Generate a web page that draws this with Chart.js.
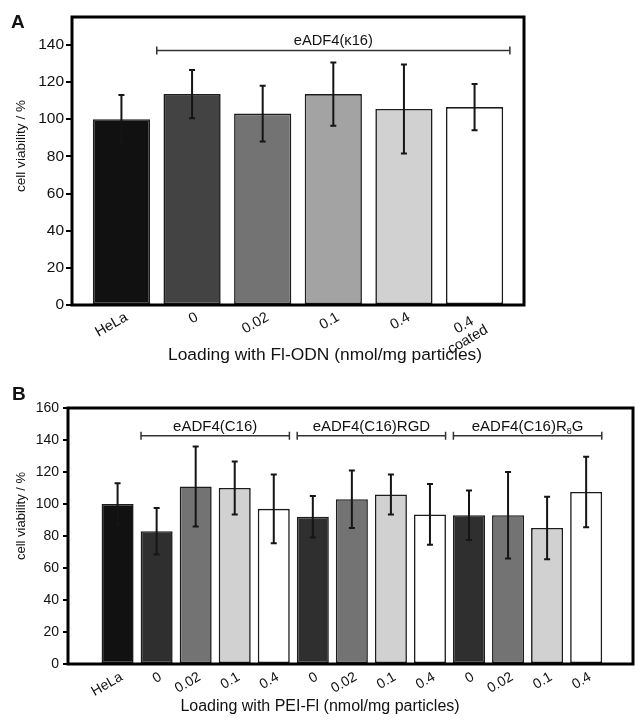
<!DOCTYPE html>
<html>
<head>
<meta charset="utf-8">
<script src="https://cdn.jsdelivr.net/npm/chart.js@4.4.0/dist/chart.umd.min.js"></script>
<style>
  html, body { margin: 0; padding: 0; background: #fff; }
  .panel { position: absolute; left: 0; width: 635px; }
  #wrapA { top: 0; height: 365px; }
  #wrapB { top: 365px; height: 357px; }
</style>
</head>
<body>
<div class="panel" id="wrapA"><canvas id="chartA" width="635" height="365"></canvas></div>
<div class="panel" id="wrapB"><canvas id="chartB" width="635" height="357"></canvas></div>
<script>
// panel A data
const labelsA = ['HeLa', '0', '0.02', '0.1', '0.4', ['0.4  ', 'coated']];
const valuesA = [100, 113.5, 103, 113.5, 105.5, 106.5];
const errorsA = [13, 13, 15, 17, 24, 12.5];
const groupsA = [{ label: 'eADF4(κ16)', from: 1, to: 5 }];
const yTicksA = [0, 20, 40, 60, 80, 100, 120, 140];

// panel B data
const labelsB = ['HeLa', '0', '0.02', '0.1', '0.4', '0', '0.02', '0.1', '0.4', '0', '0.02', '0.1', '0.4'];
const valuesB = [100, 83, 111, 110, 97, 92, 103, 106, 93.5, 93, 93, 85, 107.5];
const errorsB = [13, 14.5, 25, 16.5, 21.5, 13, 18, 12.5, 19, 15.5, 27, 19.5, 22];
const groupsB = [
  { label: 'eADF4(C16)', from: 1, to: 4 },
  { label: 'eADF4(C16)RGD', from: 5, to: 8 },
  { label: 'eADF4(C16)R', sub: '8', tail: 'G', from: 9, to: 12 }
];
const yTicksB = [0, 20, 40, 60, 80, 100, 120, 140, 160];

const FONT = '"Liberation Sans", Arial, Helvetica, sans-serif';

function drawGroupLabel(ctx, g, cx, cy, size) {
  ctx.font = size + 'px ' + FONT;
  const w1 = ctx.measureText(g.label).width;
  let total = w1, w2 = 0, w3 = 0;
  if (g.sub) {
    ctx.font = (size * 0.6) + 'px ' + FONT;
    w2 = ctx.measureText(g.sub).width;
    ctx.font = size + 'px ' + FONT;
    w3 = ctx.measureText(g.tail).width;
    total += w2 + w3;
  }
  let x = cx - total / 2;
  ctx.textAlign = 'left';
  ctx.textBaseline = 'middle';
  ctx.fillText(g.label, x, cy);
  if (g.sub) {
    ctx.font = (size * 0.6) + 'px ' + FONT;
    ctx.fillText(g.sub, x + w1, cy + size * 0.35);
    ctx.font = size + 'px ' + FONT;
    ctx.fillText(g.tail, x + w1 + w2, cy);
  }
}

function makePanel(canvasId, cfg) {
  const panelPlugin = {
    id: 'panel_' + canvasId,
    afterDatasetsDraw(chart) {
      const { ctx, scales: { x, y } } = chart;
      const meta = chart.getDatasetMeta(0);
      ctx.save();
      // error bars
      ctx.strokeStyle = '#151515';
      ctx.lineWidth = 2;
      meta.data.forEach((bar, i) => {
        const v = cfg.values[i], e = cfg.errors[i];
        const yt = y.getPixelForValue(v + e), yb = y.getPixelForValue(v - e);
        ctx.beginPath();
        ctx.moveTo(bar.x, yt); ctx.lineTo(bar.x, yb);
        ctx.moveTo(bar.x - cfg.cap, yt); ctx.lineTo(bar.x + cfg.cap, yt);
        ctx.moveTo(bar.x - cfg.cap, yb); ctx.lineTo(bar.x + cfg.cap, yb);
        ctx.stroke();
      });
      // group brackets
      ctx.strokeStyle = '#333';
      ctx.fillStyle = '#111';
      ctx.lineWidth = 1.5;
      cfg.groups.forEach(g => {
        const x1 = x.getPixelForValue(g.from - cfg.overhang);
        const x2 = x.getPixelForValue(g.to + cfg.overhang);
        const yy = y.getPixelForValue(cfg.bracketLevel);
        ctx.beginPath();
        ctx.moveTo(x1, yy); ctx.lineTo(x2, yy);
        ctx.moveTo(x1, yy - 4); ctx.lineTo(x1, yy + 4);
        ctx.moveTo(x2, yy - 4); ctx.lineTo(x2, yy + 4);
        ctx.stroke();
        drawGroupLabel(ctx, g, (x1 + x2) / 2, yy - 9, cfg.groupFont);
      });
      ctx.restore();
    },
    afterDraw(chart) {
      const { ctx, chartArea: a } = chart;
      ctx.save();
      // frame
      ctx.strokeStyle = '#000';
      ctx.lineWidth = 3;
      ctx.strokeRect(a.left, a.top, a.right - a.left, a.bottom - a.top);
      ctx.fillStyle = '#111';
      // axis titles
      ctx.font = cfg.yTitle.size + 'px ' + FONT;
      ctx.textAlign = 'center';
      ctx.textBaseline = 'middle';
      ctx.save();
      ctx.translate(cfg.yTitle.x, cfg.yTitle.y);
      ctx.rotate(-Math.PI / 2);
      ctx.fillText(cfg.yTitle.text, 0, 0);
      ctx.restore();
      ctx.font = cfg.xTitle.size + 'px ' + FONT;
      ctx.textBaseline = 'alphabetic';
      ctx.fillText(cfg.xTitle.text, cfg.xTitle.x, cfg.xTitle.y);
      // panel letter
      ctx.font = 'bold 19px ' + FONT;
      ctx.textAlign = 'left';
      ctx.fillText(cfg.letter, cfg.letterPos[0], cfg.letterPos[1]);
      ctx.restore();
    }
  };

  const ctx = document.getElementById(canvasId).getContext('2d');
  return new Chart(ctx, {
    type: 'bar',
    data: {
      datasets: [{
        data: cfg.values.map((v, i) => ({ x: i, y: v })),
        backgroundColor: cfg.colors,
        borderColor: '#1c1c1c',
        borderWidth: 1.6,
        borderSkipped: false,
        categoryPercentage: 1,
        barPercentage: cfg.barPct
      }]
    },
    options: {
      responsive: false,
      animation: false,
      events: [],
      layout: { padding: cfg.padding },
      plugins: { legend: { display: false }, tooltip: { enabled: false } },
      scales: {
        x: {
          type: 'linear',
          min: cfg.xMin,
          max: cfg.xMax,
          offset: false,
          afterBuildTicks: s => { s.ticks = cfg.labels.map((l, i) => ({ value: i })); },
          afterFit: s => { s.height = cfg.xAxisHeight; },
          grid: { display: false },
          border: { display: false },
          ticks: {
            autoSkip: false,
            minRotation: 30,
            maxRotation: 30,
            padding: cfg.xTickPad,
            labelOffset: cfg.xTickShift,
            color: '#111',
            font: { family: FONT, size: cfg.xTickFont, lineHeight: 1.0 },
            callback: v => cfg.labels[v]
          }
        },
        y: {
          min: 0,
          max: cfg.yMax,
          afterBuildTicks: s => { s.ticks = cfg.yTicks.map(v => ({ value: v })); },
          afterFit: s => { s.width = cfg.yAxisWidth; },
          grid: { drawOnChartArea: false, drawTicks: true, tickLength: cfg.tickLen, color: '#000', lineWidth: 2 },
          border: { display: false },
          ticks: {
            padding: cfg.yTickPad,
            color: '#111',
            font: { family: FONT, size: cfg.yTickFont }
          }
        }
      }
    },
    plugins: [panelPlugin]
  });
}

makePanel('chartA', {
  labels: labelsA, values: valuesA, errors: errorsA, groups: groupsA, yTicks: yTicksA,
  colors: ['#111111', '#434343', '#737373', '#a3a3a3', '#d1d1d1', '#ffffff'],
  xMin: -0.7, xMax: 5.7, yMax: 155, barPct: 0.81,
  padding: { left: 0, top: 17, right: 111, bottom: 0 },
  yAxisWidth: 72, xAxisHeight: 60,
  tickLen: 6, yTickPad: 2, xTickPad: -3, xTickShift: 5,
  xTickFont: 14.5, yTickFont: 15.5,
  cap: 3, overhang: 0.5, bracketLevel: 137, groupFont: 14.7,
  yTitle: { text: 'cell viability / %', x: 21, y: 146, size: 13.6 },
  xTitle: { text: 'Loading with Fl-ODN (nmol/mg particles)', x: 325, y: 360, size: 17.4 },
  letter: 'A', letterPos: [11, 28]
});

makePanel('chartB', {
  labels: labelsB, values: valuesB, errors: errorsB, groups: groupsB, yTicks: yTicksB,
  colors: ['#111111', '#2f2f2f', '#737373', '#d1d1d1', '#ffffff',
           '#2f2f2f', '#737373', '#d1d1d1', '#ffffff',
           '#2f2f2f', '#737373', '#d1d1d1', '#ffffff'],
  xMin: -1.27, xMax: 13.2, yMax: 160, barPct: 0.82,
  padding: { left: 0, top: 43, right: 2, bottom: 0 },
  yAxisWidth: 68, xAxisHeight: 58,
  tickLen: 5, yTickPad: 4, xTickPad: -2, xTickShift: 4,
  xTickFont: 14, yTickFont: 14,
  cap: 3, overhang: 0.4, bracketLevel: 142.7, groupFont: 15,
  yTitle: { text: 'cell viability / %', x: 21, y: 151, size: 13 },
  xTitle: { text: 'Loading with PEI-Fl (nmol/mg particles)', x: 320, y: 346, size: 16 },
  letter: 'B', letterPos: [12, 35]
});
</script>
</body>
</html>
